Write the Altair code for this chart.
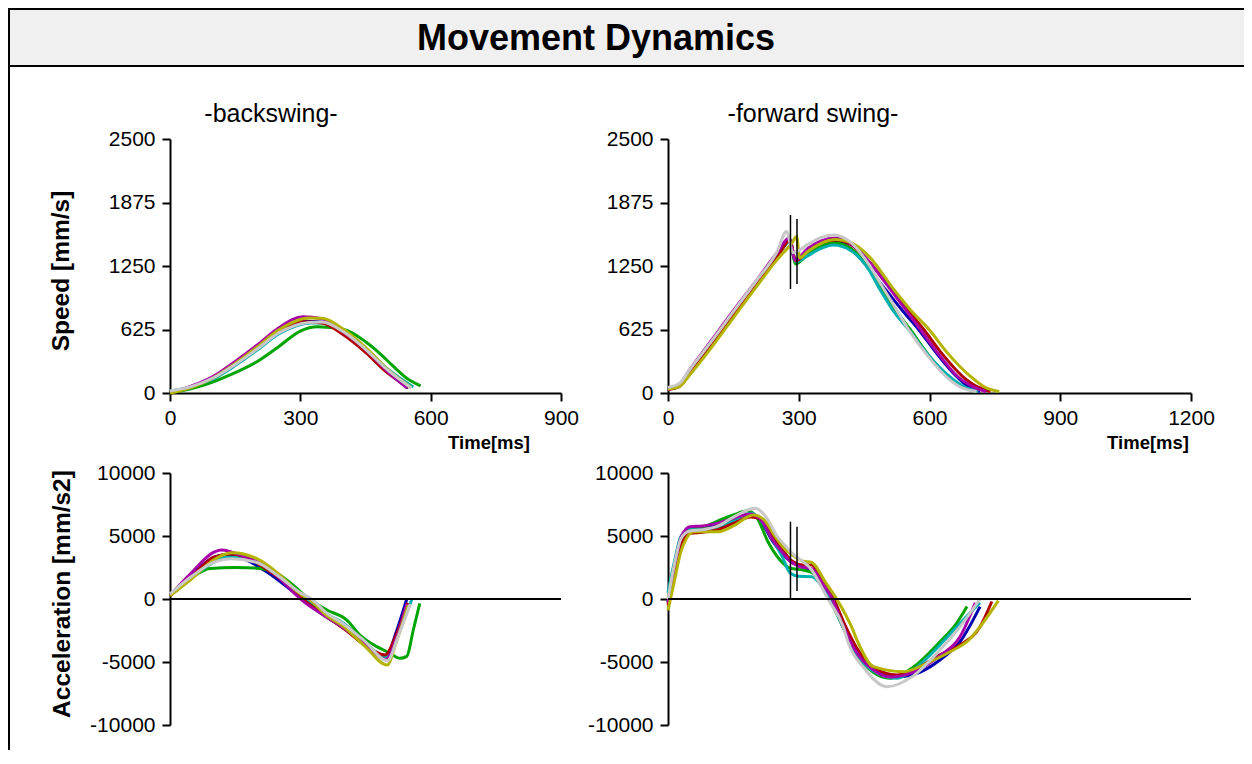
import altair as alt
import pandas as pd

FONT = "Liberation Sans"

SERIES = ["blue", "green", "cyan", "red", "purple", "olive", "gray"]
COLORS = ["#0000b0", "#00a400", "#00b0b0", "#b00000", "#a800a8", "#b4b400", "#c8c8c8"]

# ---- backswing speed [mm/s] : (time ms, value)
BACK_SPEED = {
    "blue":   ([0, 50, 100, 150, 200, 250, 310, 350, 400, 450, 500, 548],
               [10, 60, 155, 290, 445, 605, 705, 700, 590, 420, 210, 50]),
    "green":  ([0, 50, 100, 150, 200, 250, 300, 340, 400, 450, 475, 500, 550, 577],
               [0, 45, 111, 200, 308, 456, 610, 652, 625, 505, 420, 320, 130, 70]),
    "cyan":   ([0, 50, 100, 150, 200, 250, 325, 350, 400, 450, 500, 560],
               [20, 60, 140, 270, 420, 580, 690, 688, 600, 440, 240, 60]),
    "red":    ([0, 50, 100, 150, 200, 250, 300, 350, 400, 450, 500, 550],
               [0, 60, 155, 295, 455, 610, 702, 690, 570, 400, 200, 55]),
    "purple": ([0, 50, 100, 150, 200, 250, 306, 350, 400, 450, 500, 545],
               [5, 70, 165, 310, 470, 640, 750, 730, 600, 430, 215, 50]),
    "olive":  ([0, 50, 100, 150, 200, 250, 320, 350, 400, 450, 500, 555],
               [0, 55, 150, 290, 450, 620, 738, 735, 625, 450, 235, 55]),
    "gray":   ([0, 50, 100, 150, 200, 250, 320, 350, 400, 450, 500, 555],
               [20, 65, 150, 280, 430, 590, 695, 700, 600, 430, 230, 50]),
}

# ---- forward swing speed [mm/s]
FWD_SPEED = {
    "blue":   ([0, 25, 50, 100, 150, 200, 250, 278, 292, 320, 350, 380, 420, 460, 500, 540, 574, 620, 661, 690, 716],
               [45, 75, 210, 490, 780, 1065, 1350, 1510, 1300, 1390, 1470, 1495, 1420, 1230, 1014, 800, 630, 370, 167, 60, 15]),
    "green":  ([0, 25, 50, 100, 150, 200, 250, 280, 293, 320, 350, 380, 420, 460, 490, 520, 555, 600, 640, 680, 705],
               [40, 70, 200, 490, 780, 1060, 1345, 1500, 1270, 1360, 1440, 1480, 1420, 1240, 1040, 830, 630, 360, 167, 50, 15]),
    "cyan":   ([0, 25, 50, 100, 150, 200, 250, 280, 293, 320, 350, 380, 420, 460, 487, 520, 551, 600, 645, 685, 712],
               [50, 80, 200, 480, 770, 1055, 1340, 1490, 1290, 1350, 1420, 1457, 1400, 1220, 1014, 790, 630, 360, 167, 50, 15]),
    "red":    ([0, 25, 50, 100, 150, 200, 250, 280, 293, 320, 350, 385, 420, 460, 500, 540, 586, 630, 675, 710, 740],
               [35, 60, 190, 470, 760, 1045, 1330, 1500, 1300, 1400, 1475, 1506, 1460, 1300, 1090, 870, 630, 380, 167, 60, 15]),
    "purple": ([0, 25, 50, 100, 150, 200, 250, 278, 292, 320, 350, 385, 420, 460, 500, 540, 580, 625, 665, 700, 730],
               [40, 80, 230, 520, 810, 1090, 1380, 1525, 1310, 1420, 1495, 1525, 1470, 1300, 1080, 850, 620, 360, 160, 60, 15]),
    "olive":  ([0, 25, 50, 100, 150, 200, 250, 285, 295, 302, 320, 350, 385, 420, 460, 519, 560, 598, 640, 693, 730, 760],
               [40, 60, 180, 450, 740, 1030, 1310, 1480, 1540, 1330, 1390, 1470, 1510, 1480, 1350, 1014, 800, 630, 400, 167, 50, 15]),
    "gray":   ([0, 25, 50, 100, 150, 200, 250, 272, 287, 320, 350, 380, 420, 460, 490, 520, 551, 595, 637, 675, 708],
               [55, 90, 230, 510, 800, 1090, 1390, 1590, 1380, 1460, 1530, 1555, 1480, 1270, 1060, 850, 630, 370, 167, 50, 15]),
}

# ---- backswing acceleration [mm/s2]
BACK_ACC = {
    "blue":   ([0, 50, 100, 123, 175, 225, 275, 303, 350, 400, 450, 496, 520, 545],
               [300, 1900, 3300, 3500, 3100, 2100, 800, 0, -1200, -2300, -3700, -4700, -2700, 0]),
    "green":  ([0, 50, 92, 150, 200, 246, 280, 320, 361, 407, 437, 476, 507, 529, 545, 560, 575],
               [300, 1700, 2430, 2500, 2450, 2040, 1200, 0, -870, -1670, -2860, -3780, -4310, -4710, -4550, -2460, -340]),
    "cyan":   ([0, 50, 100, 130, 175, 225, 275, 312, 350, 400, 450, 497, 525, 557],
               [300, 1700, 2900, 3360, 3200, 2400, 1000, 0, -1000, -1950, -3500, -4600, -2800, 0]),
    "red":    ([0, 50, 100, 138, 175, 225, 275, 305, 350, 400, 450, 495, 520, 547],
               [250, 1800, 3300, 3570, 3300, 2300, 1000, 0, -1150, -2350, -3700, -4440, -2900, -300]),
    "purple": ([0, 50, 100, 118, 175, 225, 275, 300, 350, 400, 450, 497, 520, 545],
               [300, 2100, 3700, 3890, 3300, 2500, 850, 0, -1200, -2300, -3600, -4800, -3200, -400]),
    "olive":  ([0, 50, 100, 142, 200, 250, 300, 320, 360, 400, 450, 500, 520, 548],
               [250, 1600, 3100, 3675, 3200, 2000, 400, 0, -1300, -2200, -3800, -5240, -3500, -500]),
    "gray":   ([0, 50, 100, 142, 200, 250, 300, 326, 360, 400, 450, 500, 525, 553],
               [400, 1800, 2900, 3200, 2900, 1800, 500, 0, -1100, -2000, -3400, -4900, -3000, -400]),
}

# ---- forward swing acceleration [mm/s2]
FWD_ACC = {
    "blue":   ([0, 15, 30, 50, 80, 115, 150, 185, 210, 240, 265, 285, 310, 330, 355, 375, 400, 430, 470, 520, 563, 624, 670, 716],
               [-300, 2500, 4600, 5500, 5700, 5900, 6300, 6700, 6300, 4600, 3500, 2900, 2500, 2300, 1100, 0, -2100, -4200, -5700, -6200, -6000, -4840, -3390, -600]),
    "green":  ([0, 15, 30, 50, 80, 115, 150, 183, 205, 230, 257, 281, 310, 335, 355, 370, 400, 430, 470, 509, 563, 624, 662, 686],
               [-300, 2700, 4900, 5500, 5700, 6200, 6670, 7000, 6400, 4500, 3100, 2440, 2300, 2000, 900, 0, -2100, -4200, -5800, -6290, -5400, -3390, -1930, -600]),
    "cyan":   ([0, 15, 30, 50, 80, 115, 150, 190, 210, 235, 260, 281, 300, 330, 355, 372, 400, 430, 470, 524, 563, 624, 670, 716],
               [500, 3000, 5000, 5500, 5500, 5700, 6200, 6800, 6400, 5000, 3500, 2040, 1800, 1770, 900, 0, -2100, -4200, -5700, -6290, -5630, -3650, -1930, -300]),
    "red":    ([0, 15, 30, 50, 80, 115, 150, 190, 215, 240, 265, 285, 310, 330, 355, 380, 405, 435, 475, 525, 563, 624, 670, 716, 743],
               [-500, 2200, 4400, 5200, 5300, 5500, 6000, 6500, 6300, 5000, 3800, 3000, 2700, 2700, 1300, 0, -2000, -4000, -5500, -6030, -5630, -4440, -3650, -2200, -200]),
    "purple": ([0, 15, 30, 50, 80, 112, 150, 188, 215, 240, 265, 281, 300, 330, 355, 377, 400, 430, 470, 510, 563, 624, 670, 705],
               [-300, 2600, 4900, 5740, 5800, 6000, 6400, 6750, 6200, 4700, 3600, 2960, 2600, 2400, 1200, 0, -2000, -4100, -5600, -6200, -5800, -4500, -3000, -300]),
    "olive":  ([0, 15, 30, 60, 115, 150, 196, 220, 245, 270, 285, 310, 330, 360, 387, 421, 437, 471, 540, 600, 655, 686, 716, 758],
               [-900, 1500, 3800, 5340, 5340, 5800, 6670, 6300, 5000, 3900, 3500, 3000, 2900, 1400, 0, -2200, -3520, -5370, -5770, -5000, -4050, -3390, -2200, -130]),
    "gray":   ([0, 15, 30, 50, 80, 115, 150, 200, 225, 250, 270, 281, 300, 330, 350, 367, 402, 414, 450, 502, 563, 624, 670, 716],
               [0, 2800, 4800, 5400, 5500, 5800, 6500, 7200, 6500, 5000, 4200, 3750, 3200, 2300, 1100, 0, -2200, -3520, -5500, -6960, -6100, -4050, -2200, 0]),
}

# ---- phase markers in the forward swing (ms) and their vertical spans
MARK_T = [281, 296]
MARK_SPEED_LO = [1024, 1073]
MARK_SPEED_HI = [1752, 1713]
MARK_ACC_LO = [0, 635]
MARK_ACC_HI = [6135, 5738]

SPEED_TICKS = [0, 625, 1250, 1875, 2500]
ACC_TICKS = [-10000, -5000, 0, 5000, 10000]
BACK_TIME_TICKS = [0, 300, 600, 900]
FWD_TIME_TICKS = [0, 300, 600, 900, 1200]

W, H = 1236, 742


def to_df(d):
    rows = []
    for s in SERIES:
        ts, vs = d[s]
        for t, v in zip(ts, vs):
            rows.append({"series": s, "t": t, "v": v})
    return pd.DataFrame(rows)


AX = dict(grid=False, title=None, domainColor="black", domainWidth=2, tickColor="black",
          tickWidth=2, tickSize=8, labelFont=FONT, labelFontSize=21, labelColor="black",
          labelOverlap=False, labelExpr="'' + datum.value")

COLOR = alt.Color("series:N", scale=alt.Scale(domain=SERIES, range=COLORS), legend=None)

# pixel layout of the four panels
BX = [162, 553]
FX = [660, 1183]
SY = [385, 131]
AY = [717, 465]


def panel(data, xdom, xr, ydom, yr, yticks, xticks, marks=None, zero=False):
    """Returns a flat list of layers; each layer carries its own (identical) scales."""
    def xs():
        return alt.Scale(domain=xdom, range=xr, nice=False, zero=False)

    def ys():
        return alt.Scale(domain=ydom, range=yr, nice=False, zero=False)

    yax = alt.Axis(orient="left", offset=-xr[0], values=yticks, labelPadding=7, **AX)
    if xticks is not None:
        xax = alt.Axis(orient="bottom", offset=yr[0] - H, values=xticks, labelPadding=6,
                       labelFlush=False, **AX)
    else:
        xax = None
    layers = [
        alt.Chart(to_df(data)).mark_line(strokeWidth=3, interpolate="monotone").encode(
            x=alt.X("t:Q", scale=xs(), axis=xax),
            y=alt.Y("v:Q", scale=ys(), axis=yax),
            color=COLOR,
        )
    ]
    if zero:
        zdf = pd.DataFrame({"t0": [xdom[0]], "t1": [xdom[1]], "z": [0]})
        layers.append(
            alt.Chart(zdf).mark_rule(color="black", strokeWidth=2).encode(
                x=alt.X("t0:Q", scale=xs(), axis=None), x2="t1:Q",
                y=alt.Y("z:Q", scale=ys(), axis=None))
        )
    if marks is not None:
        mdf = pd.DataFrame({"t": MARK_T, "lo": marks[0], "hi": marks[1]})
        layers.append(
            alt.Chart(mdf).mark_rule(color="black", strokeWidth=1.5).encode(
                x=alt.X("t:Q", scale=xs(), axis=None),
                y=alt.Y("lo:Q", scale=ys(), axis=None), y2="hi:Q")
        )
    return layers


def label(text, x, y, size, weight="normal", angle=0, align="center", baseline="alphabetic"):
    return alt.Chart(pd.DataFrame({"txt": [text]})).mark_text(
        font=FONT, fontSize=size, fontWeight=weight, angle=angle, align=align,
        baseline=baseline, color="black").encode(
        text="txt:N", x=alt.value(x), y=alt.value(y))


one = pd.DataFrame({"a": [0]})
band = alt.Chart(one).mark_rect(fill="#f0f0f0", stroke="black", strokeWidth=2).encode(
    x=alt.value(1), x2=alt.value(W + 20), y=alt.value(1), y2=alt.value(58))
left_edge = alt.Chart(one).mark_rule(color="black", strokeWidth=2).encode(
    x=alt.value(1), y=alt.value(0), y2=alt.value(H))

tl = panel(BACK_SPEED, [0, 900], BX, [0, 2500], SY, SPEED_TICKS, BACK_TIME_TICKS)
tr = panel(FWD_SPEED, [0, 1200], FX, [0, 2500], SY, SPEED_TICKS, FWD_TIME_TICKS,
           marks=(MARK_SPEED_LO, MARK_SPEED_HI))
bl = panel(BACK_ACC, [0, 900], BX, [-10000, 10000], AY, ACC_TICKS, None, zero=True)
br = panel(FWD_ACC, [0, 1200], FX, [-10000, 10000], AY, ACC_TICKS, None,
           marks=(MARK_ACC_LO, MARK_ACC_HI), zero=True)

texts = [
    label("Movement Dynamics", 588, 42, 36, "bold"),
    label("-backswing-", 263, 114, 25),
    label("-forward swing-", 805, 114, 25),
    label("Time[ms]", 522, 441, 18.5, "bold", align="right"),
    label("Time[ms]", 1181, 441, 18.5, "bold", align="right"),
    label("Speed [mm/s]", 54, 263, 24.5, "bold", angle=270, baseline="middle"),
    label("Acceleration [mm/s2]", 55, 586, 24.5, "bold", angle=270, baseline="middle"),
]

chart = alt.layer(band, left_edge, *tl, *tr, *bl, *br, *texts).resolve_scale(
    x="independent", y="independent"
).properties(
    width=W, height=H, padding=0,
    autosize=alt.AutoSizeParams(type="none"),
).configure_view(stroke=None).configure(background="white")

chart.save("out.html", embed_options={"renderer": "svg", "actions": False})
